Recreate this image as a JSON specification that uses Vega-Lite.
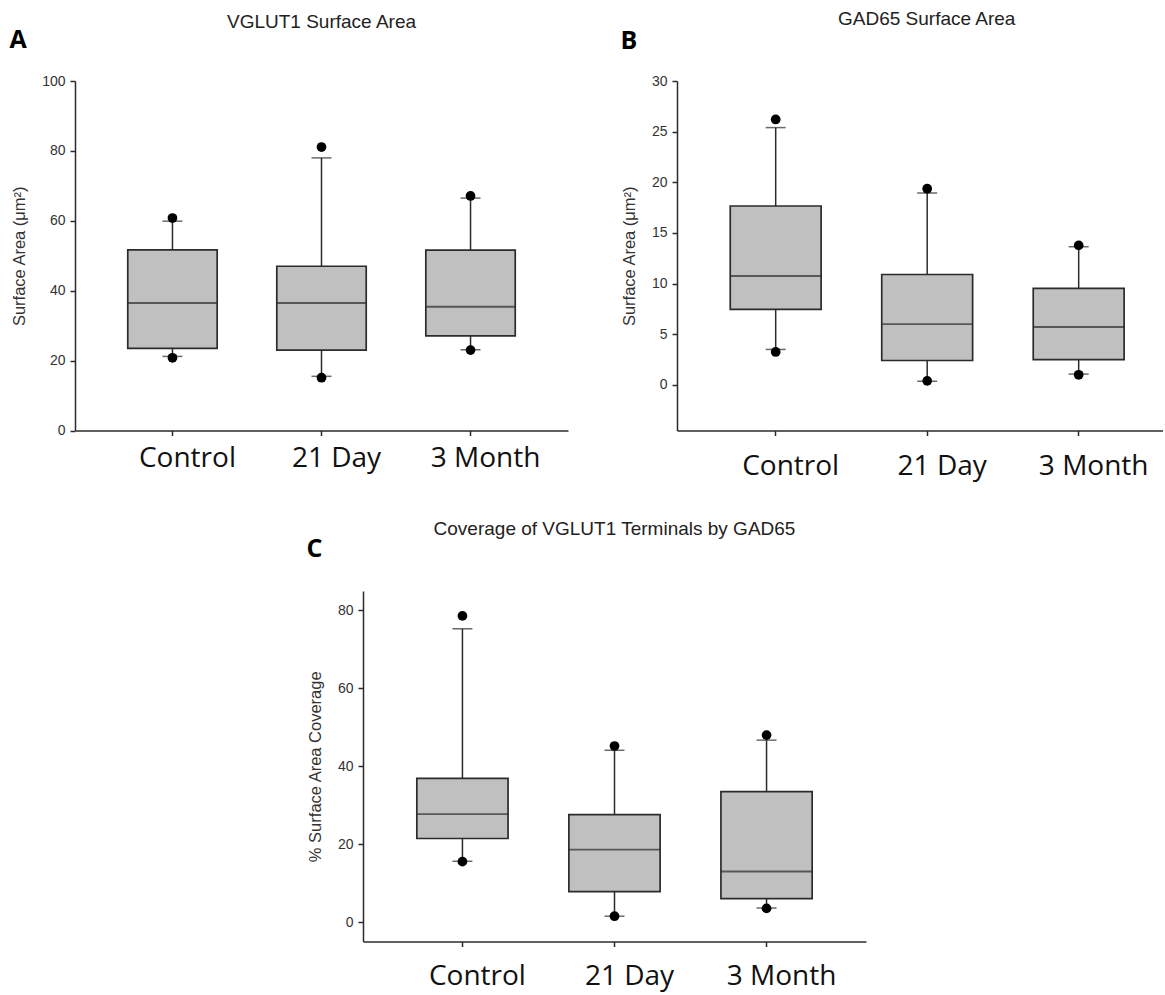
{
  "$schema": "https://vega.github.io/schema/vega-lite/v6.json",
  "background": "white",
  "padding": {"left": 9, "top": 9, "right": 0, "bottom": 2},
  "spacing": 39,
  "datasets": {
    "A": [
      {"g": "Control", "lo": 21.2, "q1": 23.5, "med": 36.5, "q3": 51.7, "hi": 59.9, "plo": 20.8, "phi": 60.8},
      {"g": "21 Day", "lo": 15.5, "q1": 23.0, "med": 36.5, "q3": 47.0, "hi": 78.0, "plo": 15.1, "phi": 81.1},
      {"g": "3 Month", "lo": 23.1, "q1": 27.1, "med": 35.4, "q3": 51.6, "hi": 66.5, "plo": 23.0, "phi": 67.1}
    ],
    "B": [
      {"g": "Control", "lo": 3.5, "q1": 7.45, "med": 10.75, "q3": 17.66, "hi": 25.4, "plo": 3.25, "phi": 26.2},
      {"g": "21 Day", "lo": 0.37, "q1": 2.41, "med": 6.0, "q3": 10.9, "hi": 18.94, "plo": 0.4, "phi": 19.37},
      {"g": "3 Month", "lo": 1.07, "q1": 2.5, "med": 5.72, "q3": 9.53, "hi": 13.64, "plo": 1.0, "phi": 13.77}
    ],
    "C": [
      {"g": "Control", "lo": 15.6, "q1": 21.45, "med": 27.7, "q3": 36.9, "hi": 75.3, "plo": 15.5, "phi": 78.6},
      {"g": "21 Day", "lo": 1.5, "q1": 7.8, "med": 18.6, "q3": 27.6, "hi": 44.1, "plo": 1.5, "phi": 45.2},
      {"g": "3 Month", "lo": 3.6, "q1": 6.0, "med": 12.96, "q3": 33.5, "hi": 46.7, "plo": 3.5, "phi": 48.0}
    ]
  },
  "vconcat": [
    {
      "hconcat": [
        {
          "data": {"name": "A"},
          "width": 493,
          "height": 349.5,
          "title": {"text": "VGLUT1 Surface Area", "offset": -5.3},
          "encoding": {"x": {"field": "g", "type": "nominal", "sort": ["Control", "21 Day", "3 Month"], "scale": {"paddingInner": 0.4, "paddingOuter": 0.354}, "axis": null}},
          "layer": [
            {"mark": {"type": "rule", "color": "#2b2b2b", "strokeWidth": 1.5},
             "encoding": {
               "x": {"field": "g", "type": "nominal", "sort": ["Control", "21 Day", "3 Month"], "scale": {"paddingInner": 0.4, "paddingOuter": 0.354}, "axis": {"title": null, "labelPadding": 31}},
               "y": {"field": "lo", "type": "quantitative", "scale": {"domain": [0, 100], "nice": false, "zero": false}, "axis": {"values": [0, 20, 40, 60, 80, 100], "title": "Surface Area (μm²)"}},
               "y2": {"field": "hi"}}},
            {"mark": {"type": "bar", "fill": "#c0c0c0", "stroke": "#2b2b2b", "strokeWidth": 1.7},
             "encoding": {"y": {"field": "q1", "type": "quantitative", "scale": {"domain": [0, 100], "nice": false, "zero": false}, "axis": {"values": [0, 20, 40, 60, 80, 100], "title": "Surface Area (μm²)"}}, "y2": {"field": "q3"}}},
            {"mark": {"type": "tick", "size": 89.4, "thickness": 1.9, "color": "#2b2b2b"},
             "encoding": {"y": {"field": "med", "type": "quantitative", "scale": {"domain": [0, 100], "nice": false, "zero": false}, "axis": {"values": [0, 20, 40, 60, 80, 100], "title": "Surface Area (μm²)"}}}},
            {"mark": {"type": "tick", "size": 20, "thickness": 1.5, "color": "#2b2b2b"},
             "encoding": {"y": {"field": "lo", "type": "quantitative", "scale": {"domain": [0, 100], "nice": false, "zero": false}, "axis": {"values": [0, 20, 40, 60, 80, 100], "title": "Surface Area (μm²)"}}}},
            {"mark": {"type": "tick", "size": 20, "thickness": 1.5, "color": "#2b2b2b"},
             "encoding": {"y": {"field": "hi", "type": "quantitative", "scale": {"domain": [0, 100], "nice": false, "zero": false}, "axis": {"values": [0, 20, 40, 60, 80, 100], "title": "Surface Area (μm²)"}}}},
            {"mark": {"type": "point", "filled": true, "size": 95, "color": "#000", "opacity": 1},
             "encoding": {"y": {"field": "plo", "type": "quantitative", "scale": {"domain": [0, 100], "nice": false, "zero": false}, "axis": {"values": [0, 20, 40, 60, 80, 100], "title": "Surface Area (μm²)"}}}},
            {"mark": {"type": "point", "filled": true, "size": 95, "color": "#000", "opacity": 1},
             "encoding": {
               "x": {"field": "g", "type": "nominal", "sort": ["Control", "21 Day", "3 Month"], "scale": {"paddingInner": 0.4, "paddingOuter": 0.354},
                     "axis": {"orient": "top", "domain": false, "ticks": false, "labels": false, "title": "A", "titleX": -66, "titleY": -34, "titleAlign": "left", "titleBaseline": "alphabetic", "titleAngle": 0, "titleFont": "Open Sans", "titleFontWeight": "bold", "titleFontSize": 25, "titleColor": "#000"}},
               "y": {"field": "phi", "type": "quantitative", "scale": {"domain": [0, 100], "nice": false, "zero": false}, "axis": {"values": [0, 20, 40, 60, 80, 100], "title": "Surface Area (μm²)"}}}}
          ],
          "resolve": {"axis": {"x": "independent"}}
        },
        {
          "data": {"name": "B"},
          "width": 486,
          "height": 349.5,
          "title": {"text": "GAD65 Surface Area", "offset": 0.2, "dx": 6.7},
          "encoding": {"x": {"field": "g", "type": "nominal", "sort": ["Control", "21 Day", "3 Month"], "scale": {"paddingInner": 0.4, "paddingOuter": 0.304, "align": 0.578}, "axis": null}},
          "layer": [
            {"mark": {"type": "rule", "color": "#2b2b2b", "strokeWidth": 1.5},
             "encoding": {
               "x": {"field": "g", "type": "nominal", "sort": ["Control", "21 Day", "3 Month"], "scale": {"paddingInner": 0.4, "paddingOuter": 0.304, "align": 0.578}, "axis": {"title": null, "labelPadding": 39}},
               "y": {"field": "lo", "type": "quantitative", "scale": {"domain": [-4.5, 30], "nice": false, "zero": false}, "axis": {"values": [0, 5, 10, 15, 20, 25, 30], "title": "Surface Area (μm²)"}},
               "y2": {"field": "hi"}}},
            {"mark": {"type": "bar", "fill": "#c0c0c0", "stroke": "#2b2b2b", "strokeWidth": 1.7},
             "encoding": {"y": {"field": "q1", "type": "quantitative", "scale": {"domain": [-4.5, 30], "nice": false, "zero": false}, "axis": {"values": [0, 5, 10, 15, 20, 25, 30], "title": "Surface Area (μm²)"}}, "y2": {"field": "q3"}}},
            {"mark": {"type": "tick", "size": 90.9, "thickness": 1.9, "color": "#2b2b2b"},
             "encoding": {"y": {"field": "med", "type": "quantitative", "scale": {"domain": [-4.5, 30], "nice": false, "zero": false}, "axis": {"values": [0, 5, 10, 15, 20, 25, 30], "title": "Surface Area (μm²)"}}}},
            {"mark": {"type": "tick", "size": 20, "thickness": 1.5, "color": "#2b2b2b"},
             "encoding": {"y": {"field": "lo", "type": "quantitative", "scale": {"domain": [-4.5, 30], "nice": false, "zero": false}, "axis": {"values": [0, 5, 10, 15, 20, 25, 30], "title": "Surface Area (μm²)"}}}},
            {"mark": {"type": "tick", "size": 20, "thickness": 1.5, "color": "#2b2b2b"},
             "encoding": {"y": {"field": "hi", "type": "quantitative", "scale": {"domain": [-4.5, 30], "nice": false, "zero": false}, "axis": {"values": [0, 5, 10, 15, 20, 25, 30], "title": "Surface Area (μm²)"}}}},
            {"mark": {"type": "point", "filled": true, "size": 95, "color": "#000", "opacity": 1},
             "encoding": {"y": {"field": "plo", "type": "quantitative", "scale": {"domain": [-4.5, 30], "nice": false, "zero": false}, "axis": {"values": [0, 5, 10, 15, 20, 25, 30], "title": "Surface Area (μm²)"}}}},
            {"mark": {"type": "point", "filled": true, "size": 95, "color": "#000", "opacity": 1},
             "encoding": {
               "x": {"field": "g", "type": "nominal", "sort": ["Control", "21 Day", "3 Month"], "scale": {"paddingInner": 0.4, "paddingOuter": 0.304, "align": 0.578},
                     "axis": {"orient": "top", "domain": false, "ticks": false, "labels": false, "title": "B", "titleX": -57, "titleY": -32.2, "titleAlign": "left", "titleBaseline": "alphabetic", "titleAngle": 0, "titleFont": "Open Sans", "titleFontWeight": "bold", "titleFontSize": 25, "titleColor": "#000"}},
               "y": {"field": "phi", "type": "quantitative", "scale": {"domain": [-4.5, 30], "nice": false, "zero": false}, "axis": {"values": [0, 5, 10, 15, 20, 25, 30], "title": "Surface Area (μm²)"}}}}
          ],
          "resolve": {"axis": {"x": "independent"}}
        }
      ],
      "spacing": 109,
      "bounds": "flush"
    },
    {
      "hconcat": [
        {
          "data": {"values": [{"s": 1}]},
          "width": 179,
          "height": 10,
          "mark": {"type": "point", "opacity": 0}
        },
        {
          "data": {"name": "C"},
          "width": 503,
          "height": 350.5,
          "title": {"text": "Coverage of VGLUT1 Terminals by GAD65", "offset": -3.3},
          "encoding": {"x": {"field": "g", "type": "nominal", "sort": ["Control", "21 Day", "3 Month"], "scale": {"paddingInner": 0.4, "paddingOuter": 0.354}, "axis": null}},
          "layer": [
            {"mark": {"type": "rule", "color": "#2b2b2b", "strokeWidth": 1.5},
             "encoding": {
               "x": {"field": "g", "type": "nominal", "sort": ["Control", "21 Day", "3 Month"], "scale": {"paddingInner": 0.4, "paddingOuter": 0.354}, "axis": {"title": null, "labelPadding": 38}},
               "y": {"field": "lo", "type": "quantitative", "scale": {"domain": [-5, 85], "nice": false, "zero": false}, "axis": {"values": [0, 20, 40, 60, 80], "title": "% Surface Area Coverage"}},
               "y2": {"field": "hi"}}},
            {"mark": {"type": "bar", "fill": "#c0c0c0", "stroke": "#2b2b2b", "strokeWidth": 1.7},
             "encoding": {"y": {"field": "q1", "type": "quantitative", "scale": {"domain": [-5, 85], "nice": false, "zero": false}, "axis": {"values": [0, 20, 40, 60, 80], "title": "% Surface Area Coverage"}}, "y2": {"field": "q3"}}},
            {"mark": {"type": "tick", "size": 91.2, "thickness": 1.9, "color": "#2b2b2b"},
             "encoding": {"y": {"field": "med", "type": "quantitative", "scale": {"domain": [-5, 85], "nice": false, "zero": false}, "axis": {"values": [0, 20, 40, 60, 80], "title": "% Surface Area Coverage"}}}},
            {"mark": {"type": "tick", "size": 20, "thickness": 1.5, "color": "#2b2b2b"},
             "encoding": {"y": {"field": "lo", "type": "quantitative", "scale": {"domain": [-5, 85], "nice": false, "zero": false}, "axis": {"values": [0, 20, 40, 60, 80], "title": "% Surface Area Coverage"}}}},
            {"mark": {"type": "tick", "size": 20, "thickness": 1.5, "color": "#2b2b2b"},
             "encoding": {"y": {"field": "hi", "type": "quantitative", "scale": {"domain": [-5, 85], "nice": false, "zero": false}, "axis": {"values": [0, 20, 40, 60, 80], "title": "% Surface Area Coverage"}}}},
            {"mark": {"type": "point", "filled": true, "size": 95, "color": "#000", "opacity": 1},
             "encoding": {"y": {"field": "plo", "type": "quantitative", "scale": {"domain": [-5, 85], "nice": false, "zero": false}, "axis": {"values": [0, 20, 40, 60, 80], "title": "% Surface Area Coverage"}}}},
            {"mark": {"type": "point", "filled": true, "size": 95, "color": "#000", "opacity": 1},
             "encoding": {
               "x": {"field": "g", "type": "nominal", "sort": ["Control", "21 Day", "3 Month"], "scale": {"paddingInner": 0.4, "paddingOuter": 0.354},
                     "axis": {"orient": "top", "domain": false, "ticks": false, "labels": false, "title": "C", "titleX": -57, "titleY": -35, "titleAlign": "left", "titleBaseline": "alphabetic", "titleAngle": 0, "titleFont": "Open Sans", "titleFontWeight": "bold", "titleFontSize": 25, "titleColor": "#000"}},
               "y": {"field": "phi", "type": "quantitative", "scale": {"domain": [-5, 85], "nice": false, "zero": false}, "axis": {"values": [0, 20, 40, 60, 80], "title": "% Surface Area Coverage"}}}}
          ],
          "resolve": {"axis": {"x": "independent"}}
        }
      ],
      "spacing": 109,
      "bounds": "flush"
    }
  ],
  "config": {
    "view": {"stroke": null},
    "axis": {"domainColor": "#2b2b2b", "domainWidth": 1.5, "tickColor": "#2b2b2b", "tickWidth": 1.5, "tickSize": 5, "grid": false},
    "axisY": {"labelFont": "Liberation Sans", "labelFontSize": 14, "labelColor": "#333", "labelPadding": 5, "titleFont": "Liberation Sans", "titleFontSize": 16.5, "titleFontWeight": "normal", "titleColor": "#333", "titlePadding": 14},
    "axisX": {"labelFont": "Open Sans", "labelFontSize": 28, "labelColor": "#111", "labelAngle": 0, "labelPadding": 28, "labelBaseline": "alphabetic", "labelOffset": 15},
    "title": {"font": "Liberation Sans", "fontSize": 19, "fontWeight": "normal", "color": "#222", "anchor": "middle", "frame": "group", "baseline": "alphabetic"}
  }
}
